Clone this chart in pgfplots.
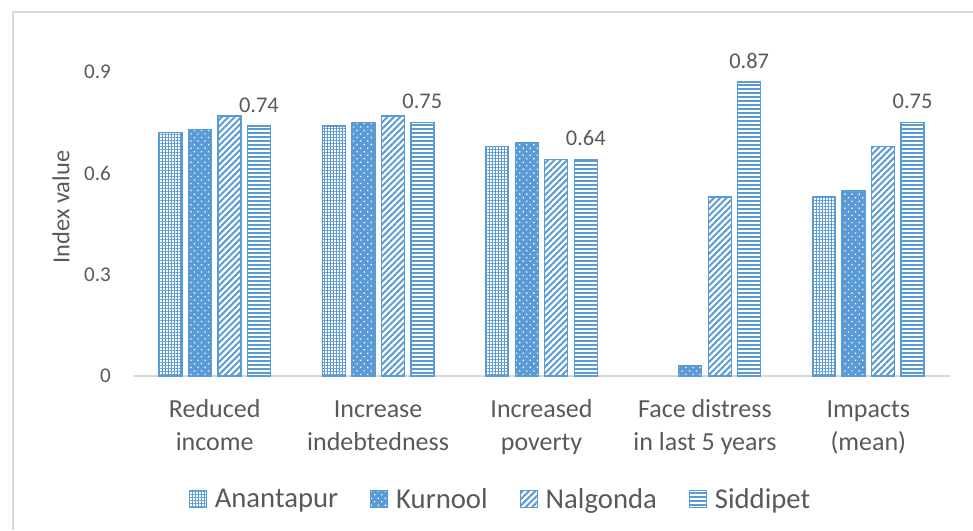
\documentclass[border=0pt]{standalone}
\usepackage{fontspec}
\setmainfont{Carlito}
\usepackage{pgfplots}
\pgfplotsset{compat=1.18}
\usetikzlibrary{patterns.meta}
\definecolor{xblue}{HTML}{5B9BD5}
\definecolor{txt}{HTML}{595959}
\definecolor{framec}{HTML}{D9D9D9}
\tikzdeclarepattern{
  name=hstripes, type=uncolored,
  bottom left={(-0.5pt,-0.5pt)}, top right={(4.5pt,4.5pt)},
  tile size={(4pt,4pt)},
  code={\fill (-0.5pt,0pt) rectangle (4.5pt,2.1pt);}
}

\begin{document}
\begin{tikzpicture}[x=1pt,y=1pt]
\path[use as bounding box] (0,0) rectangle (973,530);
\draw[framec, line width=1.5pt] (13,0) -- (13,518) -- (973,518);
\begin{axis}[
  at={(133pt,154pt)}, anchor=south west,
  scale only axis, width=817pt, height=337.8pt,
  xmin=-0.5, xmax=4.5, ymin=0, ymax=1,
  ybar=6.5pt, bar width=23pt,
  axis x line*=bottom, axis y line*=left,
  x axis line style={-, draw=framec, line width=1.5pt},
  y axis line style={draw=none},
  major tick length=0pt,
  /pgf/number format/assume math mode=true,
  xtick={0,1,2,3,4},
  xticklabels={{\strut Reduced\\income},{\strut Increase\\indebtedness},{\strut Increased\\poverty},{\strut Face distress\\in last 5 years},{\strut Impacts\\(mean)}},
  xticklabel style={align=center, font=\fontsize{26}{33}\selectfont, text=txt, anchor=north, inner sep=0pt, yshift=-18pt},
  ytick={0,0.3,0.6,0.9},
  yticklabels={0,0.3,0.6,0.9},
  yticklabel style={font=\fontsize{21}{25}\selectfont, text=txt, anchor=east, inner sep=0pt, xshift=-22pt},
  ylabel={Index value},
  every axis y label/.style={at={(axis description cs:-0.0881,0.5)}, rotate=90, anchor=center,
    font=\fontsize{24.4}{29}\selectfont, text=txt},
  legend style={at={(axis description cs:0.4486,-0.364)}, anchor=center, draw=none, fill=none,
    font=\fontsize{28.7}{34}\selectfont, text=txt, legend columns=4,
    /tikz/every odd column/.append style={column sep=8pt},
    /tikz/every even column/.append style={column sep=32pt},
    nodes={inner sep=0pt}},
  legend image code/.code={\draw[#1, line width=1pt] (0pt,-8.5pt) rectangle (17pt,8.5pt);},
  clip=false,
]
\addplot[draw=xblue, line width=1.3pt, pattern={Hatch[angle=0,distance=3pt,line width=0.7pt]}, pattern color=xblue]
  coordinates {(0,0.72) (1,0.74) (2,0.68) (4,0.53)};
\addplot[draw=xblue, line width=1.3pt, preaction={fill=xblue}, pattern={Dots[angle=45,distance=5pt,radius=0.9pt]}, pattern color=white]
  coordinates {(0,0.73) (1,0.75) (2,0.69) (3,0.03) (4,0.55)};
\addplot[draw=xblue, line width=1.3pt, pattern={Lines[angle=45,distance=4.5pt,line width=2pt]}, pattern color=xblue]
  coordinates {(0,0.77) (1,0.77) (2,0.64) (3,0.53) (4,0.68)};
\addplot[draw=xblue, line width=1.3pt, pattern=hstripes, pattern color=xblue,
  point meta=explicit symbolic, nodes near coords,
  nodes near coords style={font=\fontsize{22.4}{27}\selectfont, text=txt, anchor=south, inner sep=0pt, yshift=13pt}]
  coordinates {(0,0.74) [0.74] (1,0.75) [0.75] (2,0.64) [0.64] (3,0.87) [0.87] (4,0.75) [0.75]};
\legend{Anantapur,Kurnool,Nalgonda,Siddipet}
\end{axis}
\end{tikzpicture}
\end{document}
